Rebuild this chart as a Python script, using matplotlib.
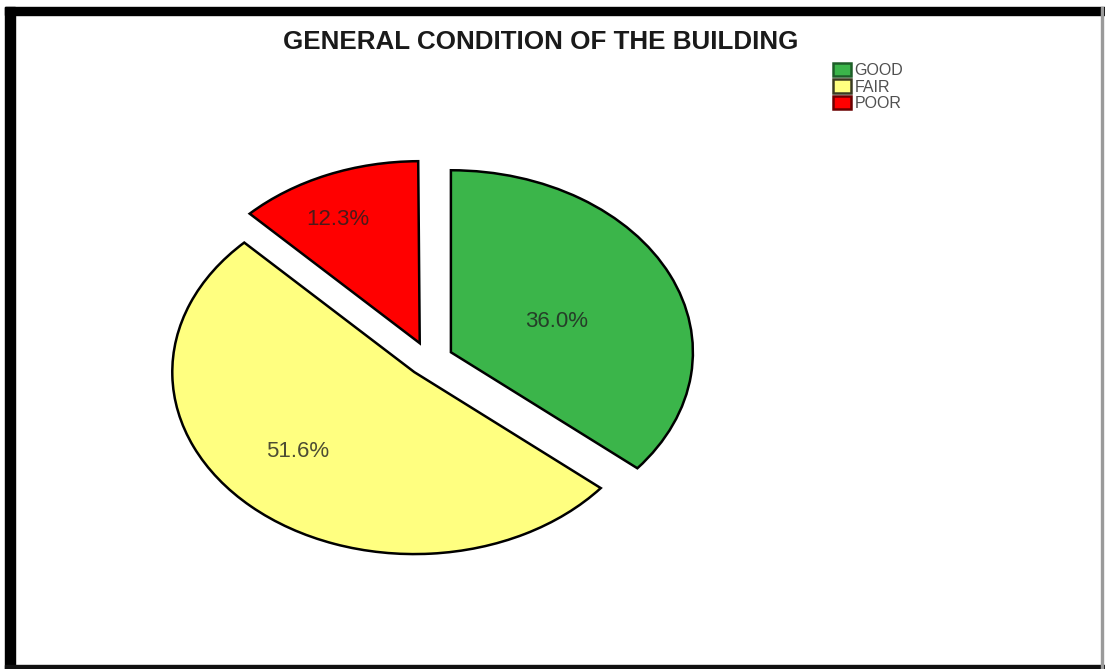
import matplotlib

matplotlib.use("Agg")
import matplotlib.pyplot as plt
import numpy as np
from matplotlib.patches import Patch, Rectangle

plt.rcParams["font.family"] = ["Liberation Sans", "DejaVu Sans"]

conditions = ["GOOD", "FAIR", "POOR"]
percent = [36.0, 51.6, 12.3]
colors = ["#3bb54a", "#ffff80", "#ff0000"]
edge_dark = ["#1d5e28", "#3a3a20", "#6a0000"]


def main():
    W, H = 1105, 669
    fig = plt.figure(figsize=(W / 100, H / 100), dpi=100, facecolor="white")

    # pie centre ~(429, 360) px, radii 242 x 182 px -> stretched ellipse
    cx, cy, rx, ry, lim = 429, 360, 242, 182, 1.4
    ax = fig.add_axes([(cx - lim * rx) / W, (H - cy - lim * ry) / H,
                       2 * lim * rx / W, 2 * lim * ry / H])

    wedges, _, autotexts = ax.pie(
        [p / 100 for p in percent], colors=colors, startangle=90, counterclock=False,
        explode=[0.1, 0.09, 0.1], normalize=False, autopct="%1.1f%%",
        wedgeprops=dict(edgecolor="black", linewidth=1.8),
        textprops=dict(fontsize=16, color="#202020", alpha=0.8),
    )
    # nudge percentage labels to where the original puts them
    label_dist = [0.47, 0.65, 0.76]
    label_turn = [-4, -5.5, 4]
    for w, t, d, a in zip(wedges, autotexts, label_dist, label_turn):
        mid = np.deg2rad((w.theta1 + w.theta2) / 2 + a)
        t.set_position((w.center[0] + d * np.cos(mid), w.center[1] + d * np.sin(mid)))

    ax.set_aspect("auto")
    ax.set_xlim(-lim, lim)
    ax.set_ylim(-lim, lim)
    ax.axis("off")

    fig.text(541 / W, 1 - 42 / H, "GENERAL CONDITION OF THE BUILDING",
             ha="center", va="center", fontsize=18.7, fontweight="bold", color="#1a1a1a")

    handles = [Patch(facecolor=c, edgecolor=e, linewidth=1.8) for c, e in zip(colors, edge_dark)]
    leg = fig.legend(handles, conditions, loc="upper left", bbox_to_anchor=(833 / W, 1 - 63 / H),
                     frameon=False, fontsize=11.5, labelspacing=0.08, handlelength=1.15,
                     handleheight=0.9, handletextpad=0.2, borderpad=0, borderaxespad=0)
    for txt in leg.get_texts():
        txt.set_color("#505050")

    # frame around the picture
    tf = fig.transFigure
    fig.add_artist(Rectangle((5 / W, 0), 10 / W, 1 - 7 / H, transform=tf, color="black"))
    fig.add_artist(Rectangle((5 / W, 1 - 15 / H), 1 - 5 / W, 8 / H, transform=tf, color="black"))
    fig.add_artist(Rectangle((5 / W, 0), 1 - 5 / W, 4 / H, transform=tf, color="#111111"))
    fig.add_artist(Rectangle((1101 / W, 0), 2 / W, 1 - 7 / H, transform=tf, color="#9a9a9a"))

    fig.savefig("out.png", dpi=100, facecolor="white")


if __name__ == "__main__":
    main()
